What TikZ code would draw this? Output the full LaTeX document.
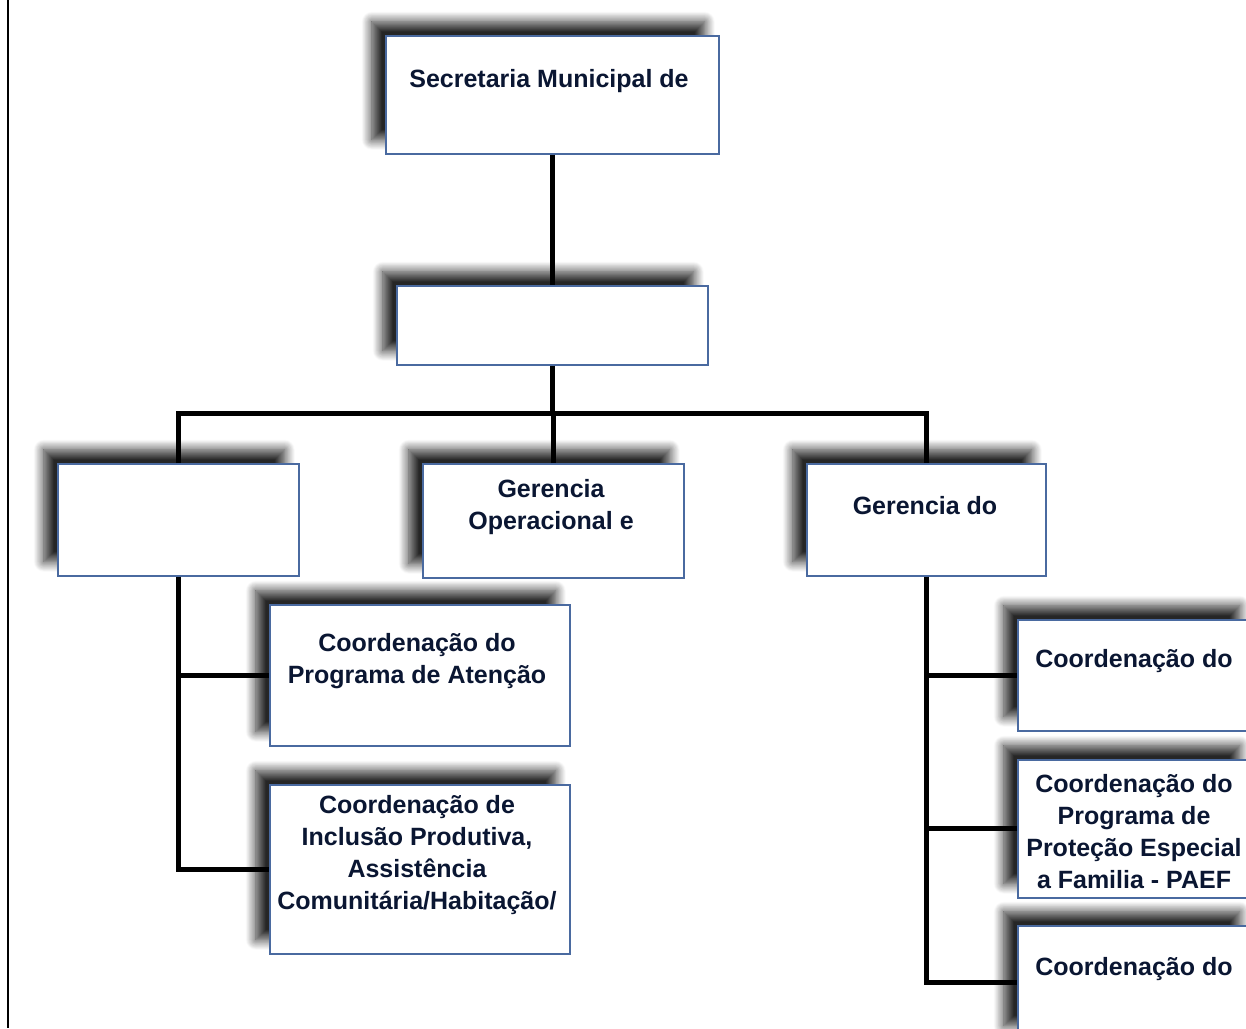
\documentclass[tikz,border=0pt]{standalone}
\usepackage{fontspec}
\setmainfont{Liberation Sans}
\usetikzlibrary{shadows.blur}
\definecolor{boxblue}{RGB}{74,106,160}
\definecolor{textnavy}{RGB}{10,22,50}
\begin{document}
\begin{tikzpicture}[x=1pt,y=-1pt,
  orgbox/.style={draw=boxblue, line width=1.5pt, fill=white, rectangle,
    inner sep=0pt, anchor=north west,
    blur shadow={shadow xshift=-14pt, shadow yshift=14pt,
      shadow blur radius=10pt, shadow blur steps=12, shadow opacity=85}},
  lbl/.style={font=\bfseries\fontsize{25}{32}\selectfont, text=textnavy,
    align=center, inner sep=0pt},
  link/.style={line width=5pt, black}]
\useasboundingbox (0,0) rectangle (1246,1028);
\clip (0,0) rectangle (1246,1028);

% frame line on the left
\coordinate (frameTop) at (8,0);
\coordinate (frameBot) at (8,1028);
\draw[line width=2pt] (frameTop) -- (frameBot);

% boxes
\node[orgbox, minimum width=333pt, minimum height=118pt] (sec) at (385,35) {};
\node[orgbox, minimum width=311pt, minimum height=79pt]  (sub) at (396,285) {};
\node[orgbox, minimum width=241pt, minimum height=112pt] (gl)  at (57,463) {};
\node[orgbox, minimum width=261pt, minimum height=114pt] (gm)  at (422,463) {};
\node[orgbox, minimum width=239pt, minimum height=112pt] (gr)  at (806,463) {};
\node[orgbox, minimum width=300pt, minimum height=141pt] (l1)  at (269,604) {};
\node[orgbox, minimum width=300pt, minimum height=169pt] (l2)  at (269,784) {};
\node[orgbox, minimum width=236pt, minimum height=111pt] (r1)  at (1017,619) {};
\node[orgbox, minimum width=236pt, minimum height=138pt] (r2)  at (1017,759) {};
\node[orgbox, minimum width=236pt, minimum height=114pt] (r3)  at (1017,925) {};

% labels
\node[lbl] (secT) at (549,81) {Secretaria Municipal de};
\node[lbl] (gmT) at (551,507) {Gerencia\\Operacional e};
\node[lbl] (grT) at (925,506) {Gerencia do};
\node[lbl] (l1T) at (417,661) {Coordenação do\\Programa de Atenção};
\node[lbl] (l2T) at (417,855.5) {Coordenação de\\Inclusão Produtiva,\\Assistência\\Comunitária/Habitação/};
\node[lbl] (r1T) at (1134,661) {Coordenação do};
\node[lbl] (r2T) at (1134,831.5) {Coordenação do\\Programa de\\Proteção Especial\\a Familia - PAEF};
\node[lbl] (r3T) at (1134,969) {Coordenação do};

% connectors
\coordinate (bus) at (sub.south |- 0,413);
\draw[link] (sec.south) -- (sub.north);
\draw[link] (sub.south) -- (bus);
\draw[link] (gl.north) |- (bus) -| (gr.north);
\draw[link] (gm.north) -- (gm.north |- bus);
\draw[link] (gl.south) |- (l2.west);
\draw[link] (gl.south |- l1.west) -- (l1.west);
\draw[link] (gr.south) |- (r3.west);
\draw[link] (gr.south |- r1.west) -- (r1.west);
\draw[link] (gr.south |- r2.west) -- (r2.west);
\end{tikzpicture}
\end{document}
